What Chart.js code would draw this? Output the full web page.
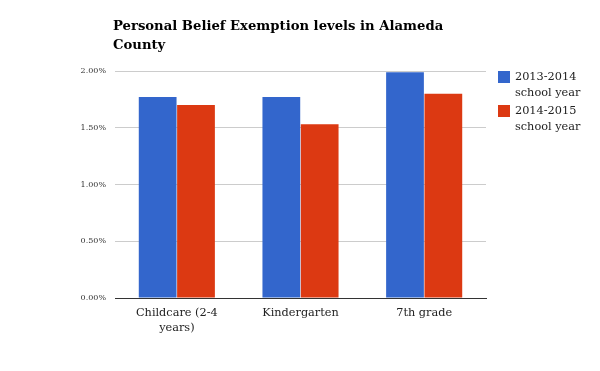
<!DOCTYPE html>
<html>
<head>
<meta charset="utf-8">
<script src="https://cdn.jsdelivr.net/npm/chart.js@4/dist/chart.umd.min.js"></script>
<style>
html,body{margin:0;padding:0;background:#fff;}
#wrap{width:600px;height:371px;position:relative;}
</style>
</head>
<body>
<div id="wrap"><canvas id="c" width="600" height="371"></canvas></div>
<script>
const titleLines = ['Personal Belief Exemption levels in Alameda', 'County'];
const categories = [['Childcare (2-4', 'years)'], 'Kindergarten', '7th grade'];
const seriesNames = [['2013-2014', 'school year'], ['2014-2015', 'school year']];
const values2013 = [1.77, 1.77, 1.99];
const values2014 = [1.70, 1.53, 1.80];
const yTicks = [0, 0.5, 1.0, 1.5, 2.0];
const colors = ['#3366cc', '#dc3912'];

const serif = '"DejaVu Serif", serif';

const decor = {
  id: 'decor',
  afterDraw(chart) {
    const ctx = chart.ctx;
    ctx.save();
    // title
    ctx.fillStyle = '#000';
    ctx.font = 'bold 13.2px ' + serif;
    ctx.textAlign = 'left';
    ctx.textBaseline = 'middle';
    titleLines.forEach((t, i) => ctx.fillText(t, 113, 27 + i * 19));
    // legend
    chart.data.datasets.forEach((ds, i) => {
      const y0 = 71 + i * 34;
      ctx.fillStyle = ds.backgroundColor;
      ctx.fillRect(498, y0, 12, 12);
      ctx.fillStyle = '#222';
      ctx.font = '11.3px ' + serif;
      ds.label.forEach((line, j) => ctx.fillText(line, 515, y0 + 6 + j * 16));
    });
    ctx.restore();
  }
};

new Chart(document.getElementById('c'), {
  type: 'bar',
  data: {
    labels: categories,
    datasets: [
      { label: seriesNames[0], data: values2013, backgroundColor: colors[0] },
      { label: seriesNames[1], data: values2014, backgroundColor: colors[1] }
    ]
  },
  options: {
    responsive: false,
    animation: false,
    layout: { padding: { left: 0, right: 114, top: 71, bottom: 0 } },
    plugins: { legend: { display: false }, title: { display: false }, tooltip: { enabled: false } },
    datasets: { bar: { categoryPercentage: 0.62, barPercentage: 0.985 } },
    scales: {
      x: {
        grid: { display: false },
        border: { display: true, color: '#333', width: 1 },
        ticks: { color: '#222', font: { family: serif, size: 11.3, lineHeight: 1.3 }, padding: 0, maxRotation: 0 },
        afterFit(s) { s.height = 73; }
      },
      y: {
        min: 0, max: 2,
        afterBuildTicks(s) { s.ticks = yTicks.map(v => ({ value: v })); },
        grid: { color: '#cccccc', drawTicks: false },
        border: { display: false },
        ticks: {
          color: '#333', font: { family: serif, size: 8 }, padding: 9,
          callback: v => v.toFixed(2) + '%'
        },
        afterFit(s) { s.width = 115; }
      }
    }
  },
  plugins: [decor]
});
</script>
</body>
</html>
